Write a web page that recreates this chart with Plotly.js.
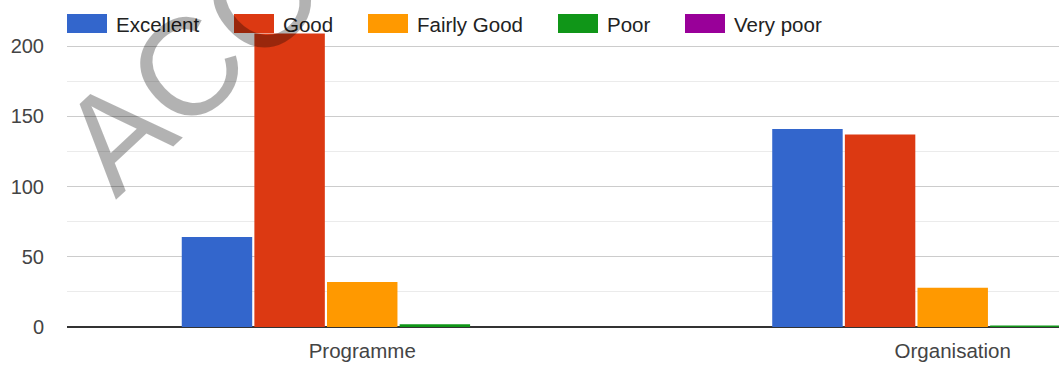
<!DOCTYPE html>
<html>
<head>
<meta charset="utf-8">
<script src="https://cdn.plot.ly/plotly-3.0.1.min.js"></script>
<style>html,body{margin:0;padding:0;background:#fff;}#chart{width:1059px;height:365px;}</style>
</head>
<body>
<div id="chart"></div>
<script>
const categories = ["Programme", "Organisation"];
const seriesNames = ["Excellent", "Good", "Fairly Good", "Poor", "Very poor"];
const excellent = [64, 141];
const good = [209, 137];
const fairlyGood = [32, 28];
const poor = [2, 1];
const veryPoor = [0, 0];
const yTicks = [0, 50, 100, 150, 200];
const watermarkText = "ACC";

const colors = ["#3366cc", "#dc3912", "#ff9900", "#109618", "#990099"];
const values = [excellent, good, fairlyGood, poor, veryPoor];

const traces = seriesNames.map((n, i) => ({
  type: "bar",
  name: n,
  x: categories,
  y: values[i],
  marker: {color: colors[i]},
  showlegend: false,
  hoverinfo: "x+y+name"
}));

const W = 1059, H = 365, L = 67, R = 0, T = 11, B = 38;
const pw = W - L - R, ph = H - T - B;
const px = v => (v - L) / pw, py = v => (H - B - v) / ph;
const FONT = "Liberation Sans, Arial, sans-serif";
const legendX = [67, 234, 368, 558, 685];
const shapes = [], annotations = [];
seriesNames.forEach((n, i) => {
  shapes.push({type: "rect", xref: "paper", yref: "paper", x0: px(legendX[i]), x1: px(legendX[i] + 40),
    y0: py(33), y1: py(14), fillcolor: colors[i], line: {width: 0}, layer: "above"});
  annotations.push({xref: "paper", yref: "paper", x: px(legendX[i] + 47),
    y: py(24), xanchor: "left", yanchor: "middle", showarrow: false,
    text: n, font: {family: FONT, size: 20.5, color: "#222"}});
});
annotations.push({xref: "paper", yref: "paper", x: px(189), y: py(66),
  xanchor: "center", yanchor: "middle", showarrow: false, textangle: -43,
  text: watermarkText, font: {family: FONT, size: 138, color: "rgba(0,0,0,0.3)"}});

const layout = {
  width: W, height: H,
  margin: {l: L, r: R, t: T, b: B, pad: 0},
  paper_bgcolor: "#fff", plot_bgcolor: "#fff",
  barmode: "group", bargap: 0.385, bargroupgap: 0.03,
  showlegend: false,
  font: {family: FONT, size: 20, color: "#444"},
  xaxis: {type: "category", range: [-0.5, 1.18], showgrid: false, zeroline: false,
    showline: false, ticks: "", ticklabelstandoff: 9, fixedrange: true, tickfont: {size: 20.5, color: "#444"}},
  yaxis: {range: [0, 225], tickvals: yTicks, showgrid: true, gridcolor: "#cccccc", gridwidth: 1,
    zeroline: true, zerolinecolor: "#333", zerolinewidth: 2, showline: false, ticks: "",
    ticklabelstandoff: 22, tickfont: {size: 20, color: "#444"},
    minor: {tickvals: [25, 75, 125, 175, 225], showgrid: true, gridcolor: "#ebebeb", gridwidth: 1}},
  shapes, annotations
};
Plotly.newPlot("chart", traces, layout, {displayModeBar: false, staticPlot: true});
</script>
</body>
</html>
